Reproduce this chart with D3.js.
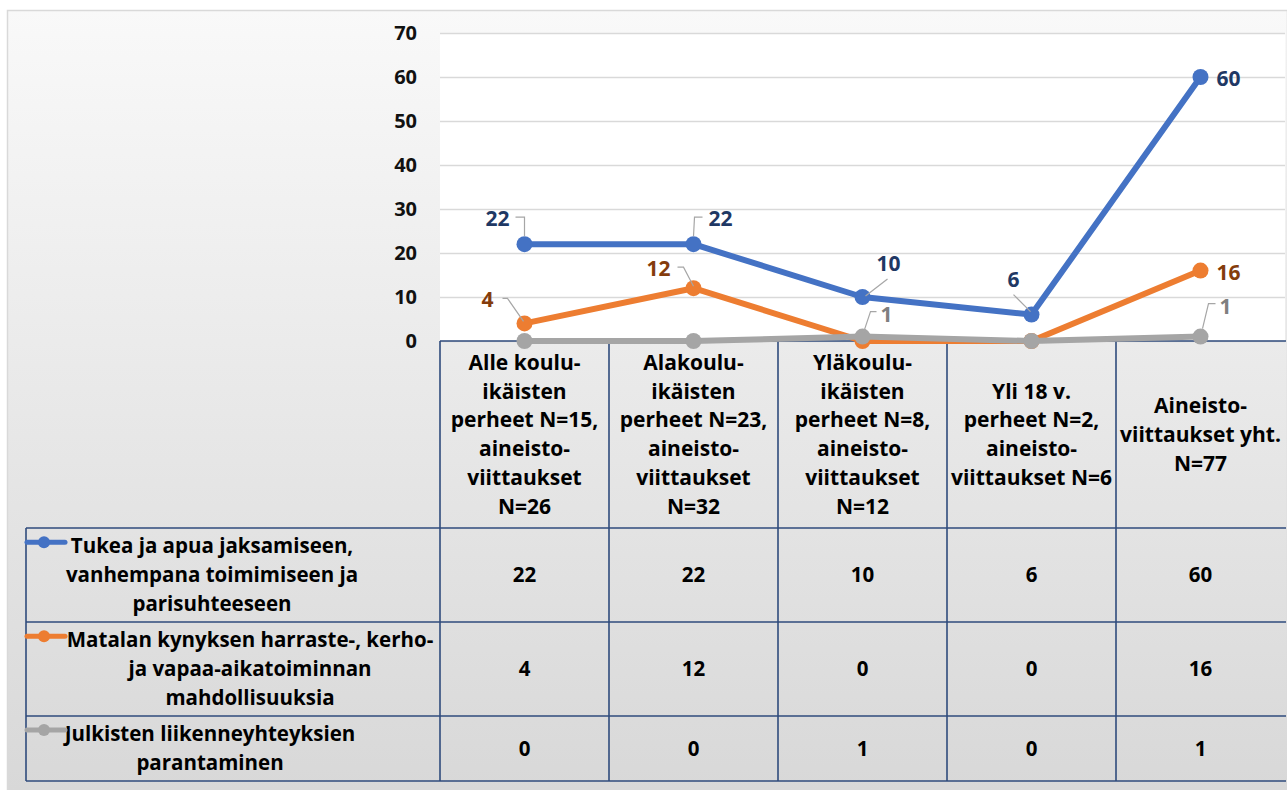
<!DOCTYPE html>
<html>
<head>
<meta charset="utf-8">
<script src="https://cdn.jsdelivr.net/npm/d3@7"></script>
<style>
  html, body { margin: 0; padding: 0; background: #ffffff; }
  svg { display: block; }
  text { font-family: "Open Sans", "DejaVu Sans", sans-serif; font-weight: 700; }
</style>
</head>
<body>
<svg id="chart" width="1287" height="790"></svg>
<script>
// ---------- data ----------
const categories = [
  ["Alle koulu-", "ikäisten", "perheet N=15,", "aineisto-", "viittaukset", "N=26"],
  ["Alakoulu-", "ikäisten", "perheet N=23,", "aineisto-", "viittaukset", "N=32"],
  ["Yläkoulu-", "ikäisten", "perheet N=8,", "aineisto-", "viittaukset", "N=12"],
  ["Yli 18 v.", "perheet N=2,", "aineisto-", "viittaukset N=6"],
  ["Aineisto-", "viittaukset yht.", "N=77"]
];
const seriesNames = [
  ["Tukea ja apua jaksamiseen,", "vanhempana toimimiseen ja", "parisuhteeseen"],
  ["Matalan kynyksen harraste-, kerho-", "ja vapaa-aikatoiminnan", "mahdollisuuksia"],
  ["Julkisten liikenneyhteyksien", "parantaminen"]
];
const tukeaValues = [22, 22, 10, 6, 60];
const matalanValues = [4, 12, 0, 0, 16];
const julkistenValues = [0, 0, 1, 0, 1];
const yTicks = [0, 10, 20, 30, 40, 50, 60, 70];

// ---------- styling / layout (not data) ----------
const seriesColors = ["#4472c4", "#ed7d31", "#a5a5a5"];
const labelColors = ["#1f3864", "#843c0c", "#7f7f7f"];
const borderColor = "#2f4b7c";
// label offsets relative to the point, with optional leader polyline (relative)
const labelLayout = [
  [ {dx:-27, dy:-26, leader:[[-9,-27],[0,-27],[0,-8]]},
    {dx:27, dy:-26, leader:[[9,-27],[1,-27],[0,-8]]},
    {dx:26, dy:-33, leader:[[25,-18],[3,-1]]},
    {dx:-18, dy:-35, leader:[[-18,-20],[-1,-3]]},
    {dx:28, dy:2, leader:null} ],
  [ {dx:-37, dy:-24, leader:[[-22,-25],[-17,-25],[-1,-2]]},
    {dx:-35, dy:-20, leader:[[-16,-21],[-10,-21],[0,-2]]},
    null, null,
    {dx:28, dy:2, leader:null} ],
  [ null, null,
    {dx:24, dy:-22, leader:[[14,-25],[8,-25],[1,-4]]},
    null,
    {dx:25, dy:-30, leader:[[15,-33],[8,-33],[2,-8]]} ]
];
const legendTextX = [212, 250, 210];

const allSeries = [tukeaValues, matalanValues, julkistenValues];

const svg = d3.select("#chart");
const W = 1287, H = 790;

const plotLeft = 440, plotRight = 1285, plotTop = 33, plotBottom = 341;
const tableLeft = 26, tableRight = 1286;
const rowBounds = [528, 622, 716, 781];

// background gradient
const defs = svg.append("defs");
const grad = defs.append("linearGradient").attr("id", "bg").attr("x1", 0).attr("y1", 0).attr("x2", 0).attr("y2", 1);
grad.append("stop").attr("offset", "0%").attr("stop-color", "#f9f9f9");
grad.append("stop").attr("offset", "100%").attr("stop-color", "#d8d8d8");

svg.append("rect").attr("x", 0).attr("y", 0).attr("width", W).attr("height", H).attr("fill", "#ffffff");
svg.append("rect").attr("x", 7.5).attr("y", 10.5).attr("width", W - 7).attr("height", H - 10)
  .attr("fill", "url(#bg)").attr("stroke", "#d9d9d9").attr("stroke-width", 1.5);

// plot area
svg.append("rect").attr("x", plotLeft).attr("y", plotTop).attr("width", plotRight - plotLeft)
  .attr("height", plotBottom - plotTop).attr("fill", "#ffffff");

const x = d3.scaleBand().domain(d3.range(categories.length)).range([plotLeft, plotRight]);
const y = d3.scaleLinear().domain([0, 70]).range([plotBottom, plotTop]);
const cx = i => x(i) + x.bandwidth() / 2;

// gridlines
const grid = svg.append("g").attr("transform", `translate(${plotLeft},0)`)
  .call(d3.axisLeft(y).tickValues(yTicks).tickSize(-(plotRight - plotLeft)).tickFormat(""));
grid.select(".domain").remove();
grid.selectAll("line").attr("stroke", "#d9d9d9").attr("stroke-width", 1.3);

// y axis labels
const yAxis = svg.append("g").attr("transform", `translate(${plotLeft},0)`)
  .call(d3.axisLeft(y).tickValues(yTicks).tickSize(0).tickPadding(23).tickFormat(d3.format("d")));
yAxis.select(".domain").remove();
yAxis.selectAll("text").attr("font-size", 20).attr("fill", "#111").style("font-family", "'Open Sans', sans-serif").style("font-weight", 700);

// table lines
const tbl = svg.append("g").attr("stroke", borderColor).attr("stroke-width", 1.6).attr("fill", "none");
tbl.append("line").attr("x1", plotLeft).attr("x2", tableRight).attr("y1", plotBottom).attr("y2", plotBottom);
rowBounds.forEach(ry => {
  tbl.append("line").attr("x1", tableLeft).attr("x2", tableRight).attr("y1", ry).attr("y2", ry);
});
tbl.append("line").attr("x1", tableLeft).attr("x2", tableLeft).attr("y1", rowBounds[0]).attr("y2", rowBounds[3]);
d3.range(categories.length).forEach(i => {
  tbl.append("line").attr("x1", x(i)).attr("x2", x(i)).attr("y1", plotBottom).attr("y2", rowBounds[3]);
});

// header texts
const lineH = 28.8;
const headerMid = (plotBottom + rowBounds[0]) / 2;
categories.forEach((lines, i) => {
  const t = svg.append("text").attr("text-anchor", "middle").attr("font-size", 21).attr("fill", "#000");
  const start = headerMid - (lines.length - 1) * lineH / 2;
  lines.forEach((ln, k) => {
    t.append("tspan").attr("x", cx(i)).attr("y", start + k * lineH).attr("dy", "0.35em").text(ln);
  });
});

// legend rows + values
allSeries.forEach((vals, s) => {
  const top = rowBounds[s], bot = rowBounds[s + 1];
  const mid = (top + bot) / 2;
  const lines = seriesNames[s];
  const start = mid - (lines.length - 1) * lineH / 2;
  const t = svg.append("text").attr("text-anchor", "middle").attr("font-size", 20.5).attr("fill", "#000");
  lines.forEach((ln, k) => {
    t.append("tspan").attr("x", legendTextX[s]).attr("y", start + k * lineH).attr("dy", "0.35em").text(ln);
  });
  const my = start - 4;
  svg.append("line").attr("x1", 27).attr("x2", 65).attr("y1", my).attr("y2", my)
    .attr("stroke", seriesColors[s]).attr("stroke-width", 5).attr("stroke-linecap", "round");
  svg.append("circle").attr("cx", 44).attr("cy", my).attr("r", 6).attr("fill", seriesColors[s]);
  vals.forEach((v, i) => {
    svg.append("text").attr("x", cx(i)).attr("y", mid).attr("dy", "0.35em")
      .attr("text-anchor", "middle").attr("font-size", 20.5).attr("fill", "#000").text(v);
  });
});

// series lines and markers
const line = d3.line().x((d, i) => cx(i)).y(d => y(d));
allSeries.forEach((vals, s) => {
  svg.append("path").datum(vals).attr("d", line).attr("fill", "none")
    .attr("stroke", seriesColors[s]).attr("stroke-width", 6)
    .attr("stroke-linejoin", "round").attr("stroke-linecap", "round");
  svg.selectAll(null).data(vals).enter().append("circle")
    .attr("cx", (d, i) => cx(i)).attr("cy", d => y(d)).attr("r", 8)
    .attr("fill", seriesColors[s]);
});

// data labels with leader lines
allSeries.forEach((vals, s) => {
  vals.forEach((v, i) => {
    const L = labelLayout[s][i];
    if (!L) return;
    const px = cx(i), py = y(v);
    if (L.leader) {
      svg.append("path")
        .attr("d", d3.line()(L.leader.map(p => [px + p[0], py + p[1]])))
        .attr("fill", "none").attr("stroke", "#a6a6a6").attr("stroke-width", 1.2);
    }
    svg.append("text").attr("x", px + L.dx).attr("y", py + L.dy).attr("dy", "0.35em")
      .attr("text-anchor", "middle").attr("font-size", 21).attr("fill", labelColors[s]).text(v);
  });
});
</script>
</body>
</html>
